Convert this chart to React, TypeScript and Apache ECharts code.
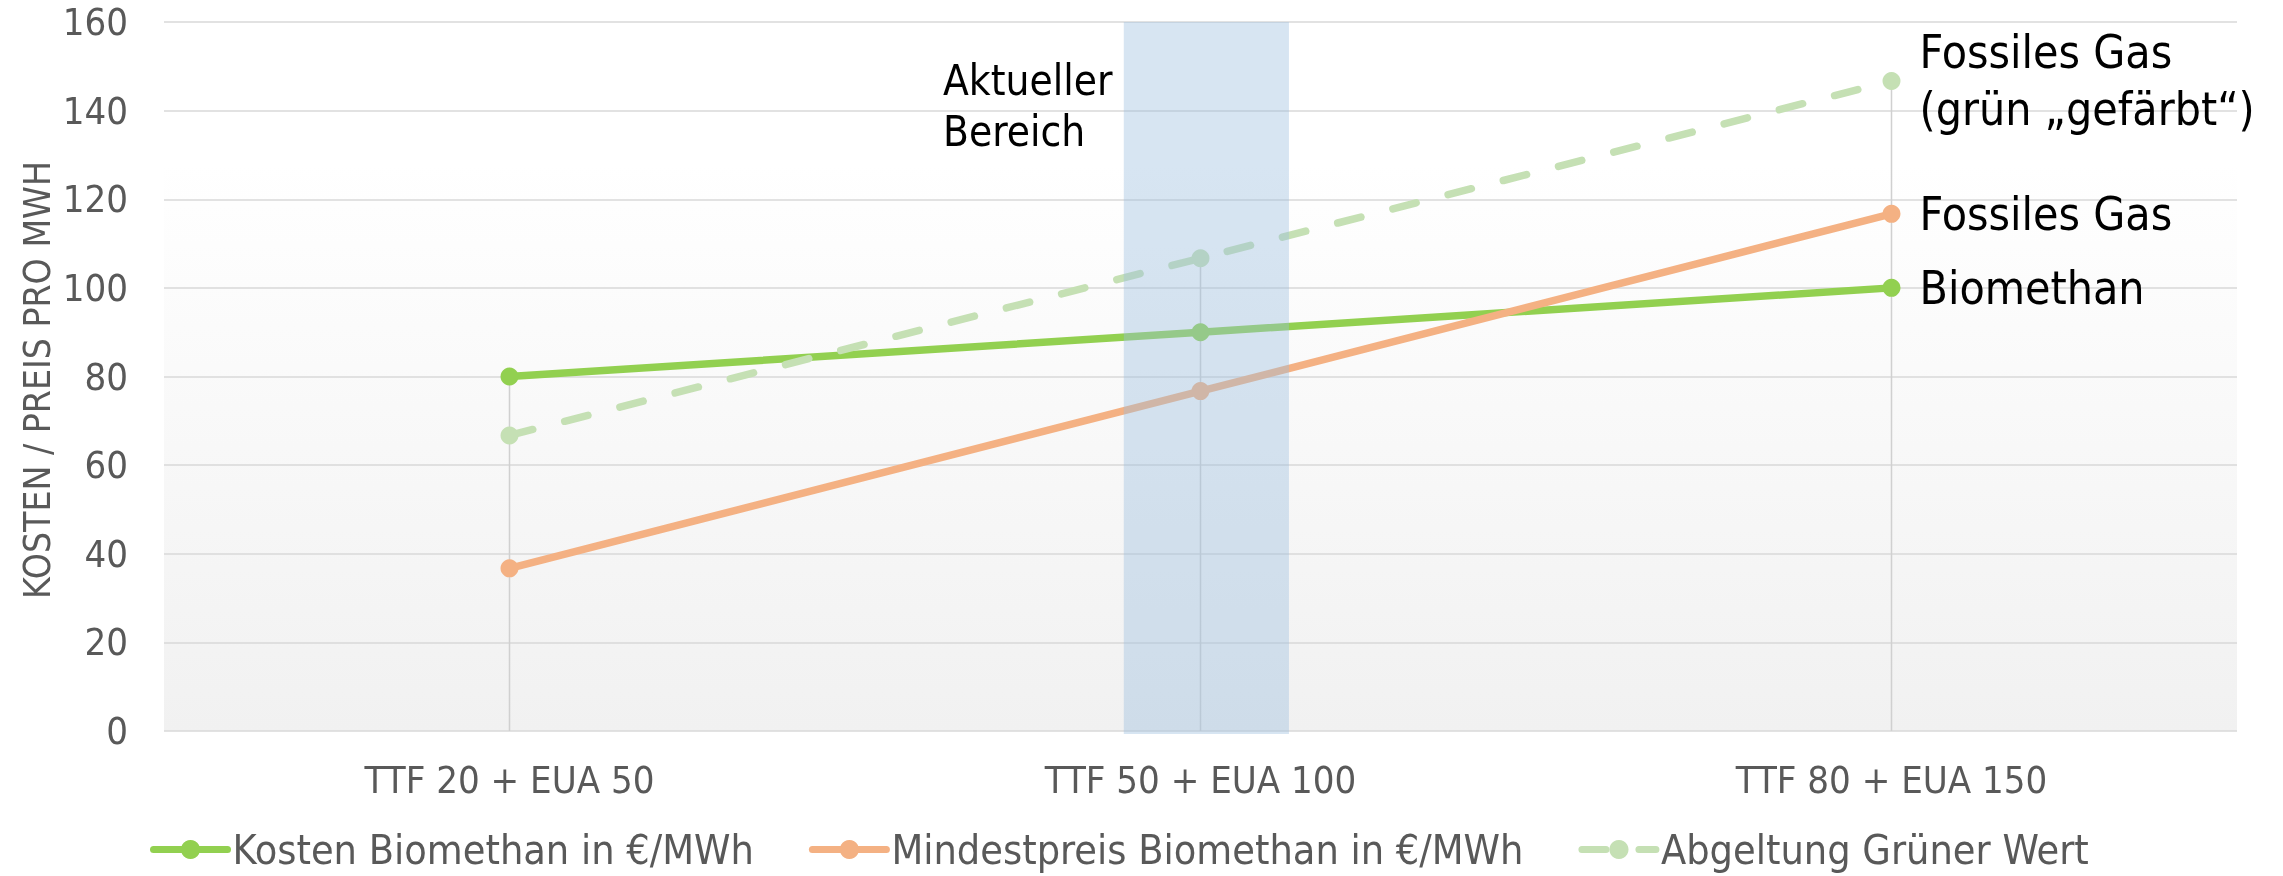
import React, { useEffect, useRef } from "react";
import * as echarts from "echarts";

const categories = ["TTF 20 + EUA 50", "TTF 50 + EUA 100", "TTF 80 + EUA 150"];
const kostenBiomethan = [80, 90, 100];
const mindestpreisBiomethan = [36.7, 76.7, 116.7];
const abgeltungGruenerWert = [66.7, 106.7, 146.7];
const seriesNames = [
  "Kosten Biomethan in €/MWh",
  "Mindestpreis Biomethan in €/MWh",
  "Abgeltung Grüner Wert",
];
const endLabels = ["Biomethan", "Fossiles Gas", "Fossiles Gas\n(grün „gefärbt“)"];
const yMin = 0;
const yMax = 160;
const yInterval = 20;
const yAxisTitle = "KOSTEN / PREIS PRO MWH";
const bandText = "Aktueller\nBereich";
// current range band, in category units (0..3) and value units
const bandRange = [1.389, 1.628];
const bandValues = [-0.7, 160];

const FONT = '"DejaVu Sans Condensed", "DejaVu Sans", sans-serif';
const COLORS = ["#92d050", "#f4b183", "#c5e0b4"];

export default function App() {
  const ref = useRef<HTMLDivElement>(null);
  useEffect(() => {
    if (!ref.current) return;
    const chart = echarts.init(ref.current, null, { renderer: "svg" });
    const allSeries = [kostenBiomethan, mindestpreisBiomethan, abgeltungGruenerWert];
    const dropData = categories.map((_, i) => [i, Math.max(...allSeries.map((s) => s[i]))]);
    const lineSeries = allSeries.map((vals, si) => ({
      name: seriesNames[si],
      type: "line",
      xAxisIndex: 0,
      yAxisIndex: 0,
      z: 3,
      symbol: "circle",
      symbolSize: 18,
      itemStyle: { color: COLORS[si] },
      lineStyle: {
        color: COLORS[si],
        width: 7.5,
        type: si === 2 ? [24, 33] : "solid",
        cap: "round",
      },
      data: vals.map((v, i) =>
        i === vals.length - 1
          ? {
              value: v,
              label: {
                show: true,
                position: "right",
                distance: 19,
                formatter: endLabels[si],
                color: "#000",
                fontFamily: FONT,
                fontSize: 46,
                lineHeight: 57,
                align: "left",
              },
            }
          : v
      ),
    }));
    chart.setOption({
      animation: false,
      textStyle: { fontFamily: FONT },
      grid: {
        left: 164,
        right: 46,
        top: 22,
        bottom: 145,
        show: true,
        borderWidth: 0,
        backgroundColor: new echarts.graphic.LinearGradient(0, 0, 0, 1, [
          { offset: 0, color: "#ffffff" },
          { offset: 0.2, color: "#ffffff" },
          { offset: 1, color: "#f1f1f1" },
        ]),
      },
      legend: {
        data: seriesNames,
        left: 145,
        top: 824,
        itemWidth: 74,
        itemHeight: 24,
        itemGap: 55,
        lineStyle: { width: 7, cap: "round" },
        textStyle: { color: "#595959", fontSize: 41, fontFamily: FONT },
      },
      xAxis: [
        {
          type: "category",
          data: categories,
          boundaryGap: true,
          axisLine: { show: false },
          axisTick: { show: false },
          splitLine: { show: false },
          axisLabel: { color: "#595959", fontSize: 38, fontFamily: FONT, margin: 30 },
        },
        { type: "value", min: 0, max: 3, show: false },
      ],
      yAxis: {
        type: "value",
        min: yMin,
        max: yMax,
        interval: yInterval,
        axisLine: { show: false },
        axisTick: { show: false },
        splitLine: { lineStyle: { color: "#d9d9d9", width: 1.5 } },
        axisLabel: { color: "#595959", fontSize: 38, fontFamily: FONT, margin: 36 },
      },
      graphic: [
        {
          type: "text",
          x: 37,
          y: 380,
          rotation: Math.PI / 2,
          style: {
            text: yAxisTitle,
            font: `37px ${FONT}`,
            fill: "#595959",
            align: "center",
            verticalAlign: "middle",
          },
        },
        {
          type: "text",
          x: 943,
          y: 106,
          z: 20,
          style: {
            text: bandText,
            font: `42px ${FONT}`,
            lineHeight: 51,
            fill: "#000",
            align: "left",
            verticalAlign: "middle",
          },
        },
      ],
      series: [
        {
          type: "custom",
          name: "drop",
          xAxisIndex: 0,
          yAxisIndex: 0,
          z: 1,
          silent: true,
          data: dropData,
          renderItem: (params: any, api: any) => {
            const top = api.coord([api.value(0), api.value(1)]);
            const bottom = api.coord([api.value(0), 0]);
            return {
              type: "line",
              shape: { x1: top[0], y1: top[1], x2: bottom[0], y2: bottom[1] },
              style: { stroke: "#d0d0d0", lineWidth: 1.5 },
            };
          },
        },
        ...lineSeries,
        {
          type: "custom",
          name: "band",
          xAxisIndex: 1,
          yAxisIndex: 0,
          z: 10,
          silent: true,
          clip: false,
          encode: { x: [0, 1], y: [2, 3] },
          data: [[bandRange[0], bandRange[1], bandValues[0], bandValues[1]]],
          renderItem: (params: any, api: any) => {
            const a = api.coord([api.value(0), api.value(3)]);
            const b = api.coord([api.value(1), api.value(2)]);
            return {
              type: "rect",
              shape: { x: a[0], y: a[1], width: b[0] - a[0], height: b[1] - a[1] },
              style: { fill: "rgba(155,190,222,0.4)" },
            };
          },
        },
      ],
    });
    return () => chart.dispose();
  }, []);
  return (
    <div
      ref={ref}
      style={{ position: "fixed", left: 0, top: 0, width: 2283, height: 876 }}
    />
  );
}
